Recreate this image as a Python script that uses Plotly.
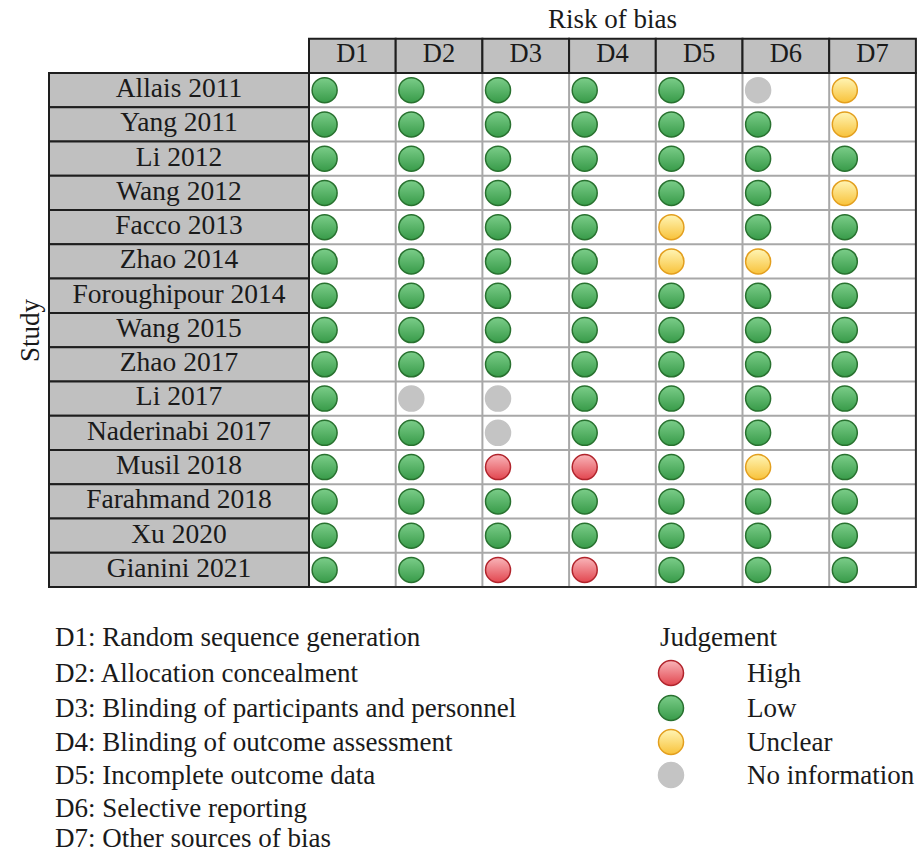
import plotly.graph_objects as go

# ---------------- data ----------------
studies = ["Allais 2011", "Yang 2011", "Li 2012", "Wang 2012", "Facco 2013",
           "Zhao 2014", "Foroughipour 2014", "Wang 2015", "Zhao 2017", "Li 2017",
           "Naderinabi 2017", "Musil 2018", "Farahmand 2018", "Xu 2020", "Gianini 2021"]
domains = ["D1", "D2", "D3", "D4", "D5", "D6", "D7"]
# L = Low, H = High, U = Unclear, N = No information
judgements = [
    "LLLLLNU",
    "LLLLLLU",
    "LLLLLLL",
    "LLLLLLU",
    "LLLLULL",
    "LLLLUUL",
    "LLLLLLL",
    "LLLLLLL",
    "LLLLLLL",
    "LNNLLLL",
    "LLNLLLL",
    "LLHHLUL",
    "LLLLLLL",
    "LLLLLLL",
    "LLHHLLL",
]
domain_desc = ["D1: Random sequence generation", "D2: Allocation concealment",
               "D3: Blinding of participants and personnel",
               "D4: Blinding of outcome assessment", "D5: Incomplete outcome data",
               "D6: Selective reporting", "D7: Other sources of bias"]
legend_cats = ["H", "L", "U", "N"]
legend_labels = ["High", "Low", "Unclear", "No information"]

# ---------------- styles ----------------
W, H = 919, 855
X0, CW = 309, 86.7     # px of first domain column, column width
Y0, RH = 73, 34.27     # px of first study row, row height
FONT = "Liberation Serif"
TXT = "#1a1a1a"
styles = {
    "L": dict(top="#7bcd89", bot="#389b49", line="#28712f"),
    "H": dict(top="#f9b5b9", bot="#e2464f", line="#b1242c"),
    "U": dict(top="#fff5b5", bot="#f8c23a", line="#e39f1e"),
    "N": dict(top="#c4c4c4", bot="#c4c4c4", line="#c4c4c4"),
}

def px2x(p):
    return (p - X0) / CW

def px2y(q):
    return (q - Y0) / RH

fig = go.Figure()
shapes = []
nS, nD = len(studies), len(domains)

# domain area background and grid
shapes.append(dict(type="rect", x0=0, x1=nD, y0=0, y1=nS, fillcolor="white",
                   line=dict(width=0), layer="below"))
for j in range(1, nD):
    shapes.append(dict(type="line", x0=j, x1=j, y0=0, y1=nS,
                       line=dict(color="#a8a8a8", width=2), layer="below"))
for i in range(1, nS):
    shapes.append(dict(type="line", x0=0, x1=nD, y0=i, y1=i,
                       line=dict(color="#a8a8a8", width=2), layer="below"))
shapes.append(dict(type="rect", x0=0, x1=nD, y0=0, y1=nS, fillcolor="rgba(0,0,0,0)",
                   line=dict(color="#2a2a2a", width=2), layer="below"))
# header cells
for j in range(nD):
    shapes.append(dict(type="rect", x0=j, x1=j + 1, y0=-1, y1=0, fillcolor="#c0c0c0",
                       line=dict(color="#1e1e1e", width=2), layer="below"))
# study label cells
for i in range(nS):
    shapes.append(dict(type="rect", x0=px2x(49), x1=0, y0=i, y1=i + 1, fillcolor="#c0c0c0",
                       line=dict(color="#1e1e1e", width=2), layer="below"))

# study labels
fig.add_trace(go.Scatter(x=[px2x(49) / 2] * nS, y=[i + 0.5 for i in range(nS)],
                         mode="text", text=studies,
                         textfont=dict(family=FONT, size=27.5, color=TXT),
                         hoverinfo="skip"))
# header labels
fig.add_trace(go.Scatter(x=[j + 0.5 for j in range(nD)], y=[-0.5] * nD,
                         mode="text", text=domains,
                         textfont=dict(family=FONT, size=26.5, color=TXT),
                         hoverinfo="skip"))

# judgement circles
for cat in ["L", "H", "U", "N"]:
    xs, ys = [], []
    for i, row in enumerate(judgements):
        for j, v in enumerate(row):
            if v == cat:
                xs.append(j + 0.18)
                ys.append(i + 0.5)
    st = styles[cat]
    fig.add_trace(go.Scatter(
        x=xs, y=ys, mode="markers",
        marker=dict(size=25, color=st["top"],
                    gradient=dict(type="vertical", color=st["bot"]),
                    line=dict(color=st["line"], width=1.5)),
        hoverinfo="skip"))

# legend circles
leg_y = [673, 708, 742, 775]
for cat, yy in zip(legend_cats, leg_y):
    st = styles[cat]
    fig.add_trace(go.Scatter(
        x=[px2x(671)], y=[px2y(yy)], mode="markers",
        marker=dict(size=25, color=st["top"],
                    gradient=dict(type="vertical", color=st["bot"]),
                    line=dict(color=st["line"], width=1.5)),
        hoverinfo="skip"))

annotations = []
annotations.append(dict(x=3.5, y=px2y(19), text="Risk of bias", showarrow=False,
                        font=dict(family=FONT, size=27, color=TXT), xanchor="center", yanchor="middle"))
annotations.append(dict(x=px2x(30), y=px2y(330), text="Study", showarrow=False, textangle=-90,
                        font=dict(family=FONT, size=27, color=TXT), xanchor="center", yanchor="middle"))
desc_y = [637, 673, 708, 742, 775, 808, 838]
for t, yy in zip(domain_desc, desc_y):
    annotations.append(dict(x=px2x(53), y=px2y(yy), text=t, showarrow=False,
                            font=dict(family=FONT, size=27, color=TXT), xanchor="left", yanchor="middle"))
annotations.append(dict(x=px2x(658), y=px2y(637), text="Judgement", showarrow=False,
                        font=dict(family=FONT, size=27, color=TXT), xanchor="left", yanchor="middle"))
for t, yy in zip(legend_labels, leg_y):
    annotations.append(dict(x=px2x(745), y=px2y(yy), text=t, showarrow=False,
                            font=dict(family=FONT, size=27, color=TXT), xanchor="left", yanchor="middle"))

fig.update_layout(
    width=W, height=H, margin=dict(l=0, r=0, t=0, b=0),
    paper_bgcolor="white", plot_bgcolor="white", showlegend=False,
    shapes=shapes, annotations=annotations,
    xaxis=dict(range=[px2x(0), px2x(W)], visible=False, fixedrange=True),
    yaxis=dict(range=[px2y(H), px2y(0)], visible=False, fixedrange=True),
)
fig.write_html("out.html", config={"displayModeBar": False},
               post_script="document.body.style.margin='0';document.body.style.overflow='hidden';")
